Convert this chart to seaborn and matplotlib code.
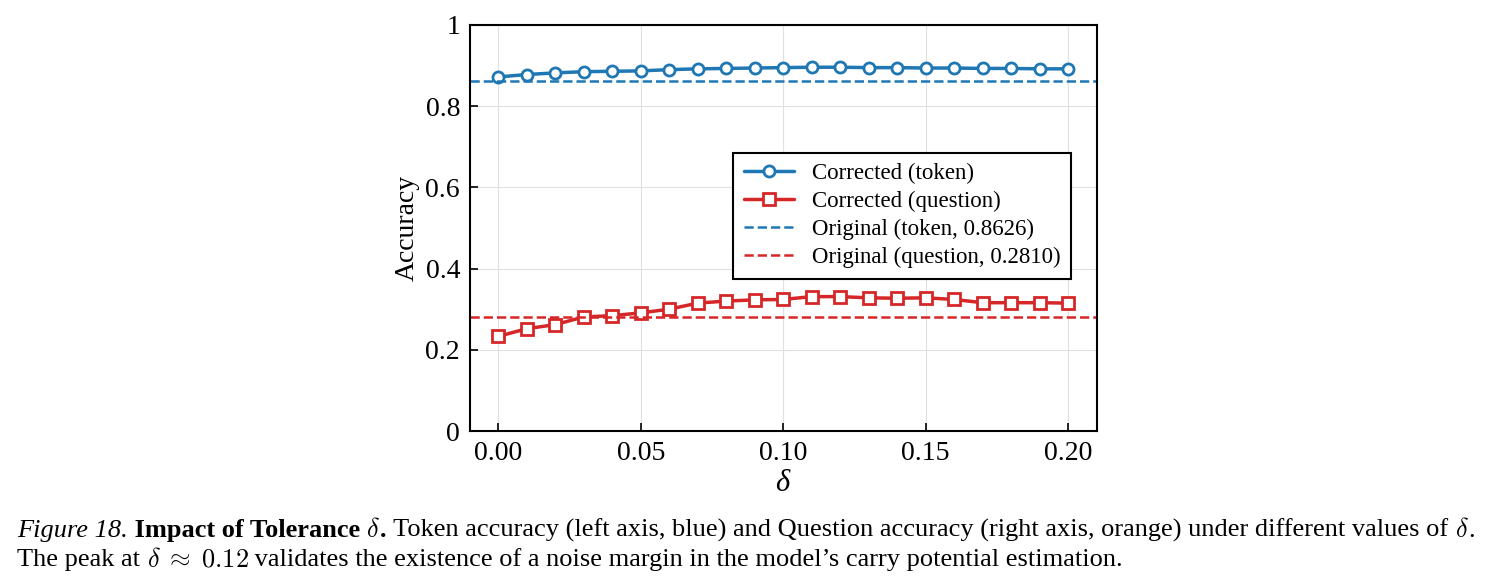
import numpy as np
import pandas as pd
import seaborn as sns
import matplotlib.pyplot as plt
from matplotlib.ticker import FuncFormatter

# tolerance values and accuracies
delta = [0.00, 0.01, 0.02, 0.03, 0.04, 0.05, 0.06, 0.07, 0.08, 0.09, 0.10,
         0.11, 0.12, 0.13, 0.14, 0.15, 0.16, 0.17, 0.18, 0.19, 0.20]
token_acc = [0.872, 0.878, 0.882, 0.885, 0.886, 0.887, 0.890, 0.892, 0.893, 0.894, 0.895,
             0.896, 0.896, 0.895, 0.895, 0.894, 0.894, 0.893, 0.893, 0.892, 0.892]
question_acc = [0.233, 0.252, 0.262, 0.281, 0.284, 0.291, 0.300, 0.315, 0.320, 0.323, 0.324,
                0.331, 0.331, 0.328, 0.327, 0.328, 0.324, 0.316, 0.316, 0.316, 0.315]
orig_token = 0.8626
orig_question = 0.2810

BLUE = '#1f77b4'
RED = '#d62728'

# (text, style, weight) ; pieces starting with $ are rendered as math
caption_1 = [('Figure 18.', 'italic', 'normal'), (' Impact of Tolerance ', 'normal', 'bold'),
             (r'$\delta$', 'normal', 'normal'), ('.', 'normal', 'bold'),
             (' Token accuracy (left axis, blue) and Question accuracy (right axis, orange) under different values of ',
              'normal', 'normal'),
             (r'$\delta$', 'normal', 'normal'), ('.', 'normal', 'normal')]
caption_2 = [('The peak at ', 'normal', 'normal'), (r'$\delta\;\approx\;0.12$', 'normal', 'normal'),
             (' validates the existence of a noise margin in the model’s carry potential estimation.',
              'normal', 'normal')]


def draw_caption(fig, pieces, x, y, size):
    renderer = fig.canvas.get_renderer()
    x_px = x * fig.bbox.width
    for txt, style, weight in pieces:
        t = fig.text(x_px / fig.bbox.width, y, txt, fontsize=size, style=style,
                     weight=weight, va='baseline', color='black', math_fontfamily='cm')
        x_px += t.get_window_extent(renderer).width


def main():
    sns.set_style('ticks')
    plt.rcParams['font.family'] = ['Liberation Serif', 'DejaVu Serif']
    plt.rcParams['mathtext.fontset'] = 'custom'
    plt.rcParams['mathtext.rm'] = 'Liberation Serif'
    plt.rcParams['mathtext.it'] = 'Liberation Serif:italic'
    plt.rcParams['text.color'] = 'black'
    plt.rcParams['axes.labelcolor'] = 'black'
    plt.rcParams['xtick.color'] = 'black'
    plt.rcParams['ytick.color'] = 'black'

    df = pd.DataFrame({'delta': delta, 'token': token_acc, 'question': question_acc})

    fig = plt.figure(figsize=(14.96, 5.88), dpi=100)
    ax = fig.add_axes([0.314, 0.267, 0.419, 0.6905])

    sns.lineplot(data=df, x='delta', y='token', ax=ax, color=BLUE, lw=2.5,
                 marker='o', markersize=8, markerfacecolor='white',
                 markeredgecolor=BLUE, markeredgewidth=2, label='Corrected (token)')
    sns.lineplot(data=df, x='delta', y='question', ax=ax, color=RED, lw=2.5,
                 marker='s', markersize=8, markerfacecolor='white',
                 markeredgecolor=RED, markeredgewidth=2, label='Corrected (question)')
    ax.axhline(orig_token, color=BLUE, ls='--', lw=1.8, label=f'Original (token, {orig_token:.4f})')
    ax.axhline(orig_question, color=RED, ls='--', lw=1.8, label=f'Original (question, {orig_question:.4f})')

    ax.set_xlim(-0.01, 0.21)
    ax.set_ylim(0, 1)
    ax.set_xticks([0.0, 0.05, 0.10, 0.15, 0.20])
    ax.set_yticks([0, 0.2, 0.4, 0.6, 0.8, 1.0])
    ax.xaxis.set_major_formatter(FuncFormatter(lambda v, p: f'{v:.2f}'))
    ax.yaxis.set_major_formatter(FuncFormatter(lambda v, p: f'{v:g}'))
    ax.grid(True, color='#e0e0e0', lw=0.8)
    ax.tick_params(direction='in', length=6, width=1.2, labelsize=20, pad=7)
    for s in ax.spines.values():
        s.set_linewidth(1.5)
        s.set_color('black')

    ax.set_xlabel(r'$\delta$', fontsize=22, labelpad=2)
    ax.set_ylabel('Accuracy', fontsize=20)

    leg = ax.legend(loc='center', bbox_to_anchor=(0.69, 0.53), fontsize=16.5,
                    fancybox=False, framealpha=1, edgecolor='black',
                    handlelength=2.2, borderpad=0.45, labelspacing=0.3)
    leg.get_frame().set_linewidth(1.5)

    draw_caption(fig, caption_1, 0.0113, 0.087, 19)
    draw_caption(fig, caption_2, 0.0113, 0.037, 19)

    fig.savefig('out.png', dpi=100)
    plt.close(fig)


if __name__ == '__main__':
    main()
